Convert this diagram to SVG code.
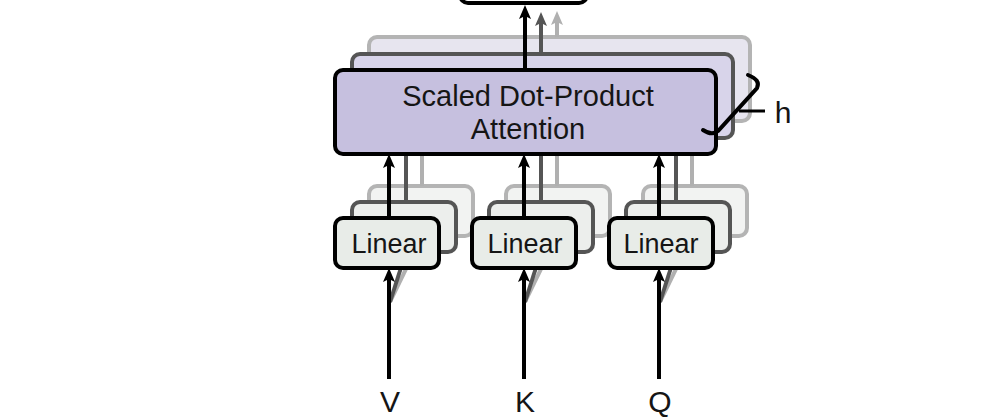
<svg xmlns="http://www.w3.org/2000/svg" width="987" height="420" viewBox="0 0 987 420">
<defs>
<style>
.txt{font-family:"Liberation Sans",Arial,sans-serif;fill:#151515;text-anchor:middle}
.front{stroke:#000;stroke-width:4}
.l2{stroke:#555;stroke-width:4}
.l3{stroke:#b4b4b4;stroke-width:4}
.att1{fill:#c6c0df}
.att2{fill:#d8d4ea}
.att3{fill:#e7e5ef}
.lin1{fill:#e8ece8}
.lin2{fill:#eceeec}
.lin3{fill:#f2f3f2}
.ar{fill:none;stroke:#000;stroke-width:4}
.ar2{fill:none;stroke:#555;stroke-width:4}
.ar3{fill:none;stroke:#b0b0b0;stroke-width:4}
</style>
<filter id="soft" x="-10%" y="-10%" width="120%" height="120%"><feGaussianBlur stdDeviation="0.7"/></filter>
<marker id="ah" viewBox="0 0 14 12" markerWidth="14" markerHeight="12" markerUnits="userSpaceOnUse" refX="6" refY="6" orient="auto"><path d="M0,0 L14,6 L0,12 L3,6 Z" fill="#000"/></marker>
<marker id="ah2" viewBox="0 0 14 12" markerWidth="14" markerHeight="12" markerUnits="userSpaceOnUse" refX="6" refY="6" orient="auto"><path d="M0,0 L14,6 L0,12 L3,6 Z" fill="#555"/></marker>
<marker id="ah3" viewBox="0 0 14 12" markerWidth="14" markerHeight="12" markerUnits="userSpaceOnUse" refX="6" refY="6" orient="auto"><path d="M0,0 L14,6 L0,12 L3,6 Z" fill="#b0b0b0"/></marker>
</defs>
<rect width="987" height="420" fill="#fff"/>

<g id="back-layers" filter="url(#soft)">
  <rect class="att3 l3" x="369" y="37" width="381" height="84" rx="8"/>
  <rect class="att2 l2" x="352" y="54" width="381" height="84" rx="8"/>
  <rect class="lin3 l3" x="369" y="186" width="104" height="50" rx="8"/>
  <rect class="lin3 l3" x="506" y="186" width="104" height="50" rx="8"/>
  <rect class="lin3 l3" x="643" y="186" width="104" height="50" rx="8"/>
  <rect class="lin2 l2" x="352" y="202" width="104" height="50" rx="8"/>
  <rect class="lin2 l2" x="489" y="202" width="104" height="50" rx="8"/>
  <rect class="lin2 l2" x="626" y="202" width="104" height="50" rx="8"/>
</g>

<g id="connectors">
  <g filter="url(#soft)">
    <line class="ar3" x1="557" y1="37" x2="557" y2="19" marker-end="url(#ah3)"/>
    <line class="ar2" x1="541" y1="54" x2="541" y2="20" marker-end="url(#ah2)"/>
    <line class="ar3" x1="422" y1="186" x2="422" y2="138"/>
    <line class="ar2" x1="406" y1="202" x2="406" y2="150"/>
    <line class="ar3" x1="557" y1="186" x2="557" y2="138"/>
    <line class="ar2" x1="541" y1="202" x2="541" y2="150"/>
    <line class="ar3" x1="692" y1="186" x2="692" y2="138"/>
    <line class="ar2" x1="676" y1="202" x2="676" y2="150"/>
    <line class="ar3" x1="390" y1="302" x2="422" y2="236" stroke-width="3"/>
    <line class="ar2" x1="390" y1="302" x2="406" y2="252" stroke-width="3"/>
    <line class="ar3" x1="525" y1="302" x2="557" y2="236" stroke-width="3"/>
    <line class="ar2" x1="525" y1="302" x2="541" y2="252" stroke-width="3"/>
    <line class="ar3" x1="660" y1="302" x2="692" y2="236" stroke-width="3"/>
    <line class="ar2" x1="660" y1="302" x2="676" y2="252" stroke-width="3"/>
  </g>
</g>

<g id="top-box">
  <rect x="460" y="-40" width="127" height="43" rx="8" fill="#fff" class="front"/>
</g>

<g id="attention">
  <rect class="att1 front" x="335" y="70" width="381" height="84" rx="8"/>
  <text class="txt" x="528" y="106" font-size="29">Scaled Dot-Product</text>
  <text class="txt" x="528" y="139" font-size="29">Attention</text>
</g>

<g id="linear-v">
  <rect class="lin1 front" x="335" y="218" width="104" height="50" rx="8"/>
  <text class="txt" x="389" y="253" font-size="27">Linear</text>
</g>
<g id="linear-k">
  <rect class="lin1 front" x="472" y="218" width="104" height="50" rx="8"/>
  <text class="txt" x="525" y="253" font-size="27">Linear</text>
</g>
<g id="linear-q">
  <rect class="lin1 front" x="609" y="218" width="104" height="50" rx="8"/>
  <text class="txt" x="661" y="253" font-size="27">Linear</text>
</g>

<g id="connectors-front">
  <line class="ar" x1="525" y1="70" x2="525" y2="13" marker-end="url(#ah)"/>
  <line class="ar" x1="389" y1="218" x2="389" y2="162" marker-end="url(#ah)"/>
  <line class="ar" x1="524" y1="218" x2="524" y2="162" marker-end="url(#ah)"/>
  <line class="ar" x1="659" y1="218" x2="659" y2="162" marker-end="url(#ah)"/>
  <line class="ar" x1="389" y1="379" x2="389" y2="276" marker-end="url(#ah)"/>
  <line class="ar" x1="524" y1="379" x2="524" y2="276" marker-end="url(#ah)"/>
  <line class="ar" x1="659" y1="379" x2="659" y2="276" marker-end="url(#ah)"/>
</g>

<g id="h-brace">
  <path d="M748,75 Q761,80 757,88 L718,131 Q712,136 703,130" fill="none" stroke="#000" stroke-width="4" stroke-linecap="round"/>
  <line x1="739" y1="111" x2="765" y2="111" stroke="#000" stroke-width="3"/>
  <text class="txt" x="783" y="123" font-size="30">h</text>
</g>

<g id="inputs">
  <text class="txt" x="390" y="412" font-size="30">V</text>
  <text class="txt" x="525" y="412" font-size="30">K</text>
  <text class="txt" x="660" y="412" font-size="30">Q</text>
</g>
</svg>
